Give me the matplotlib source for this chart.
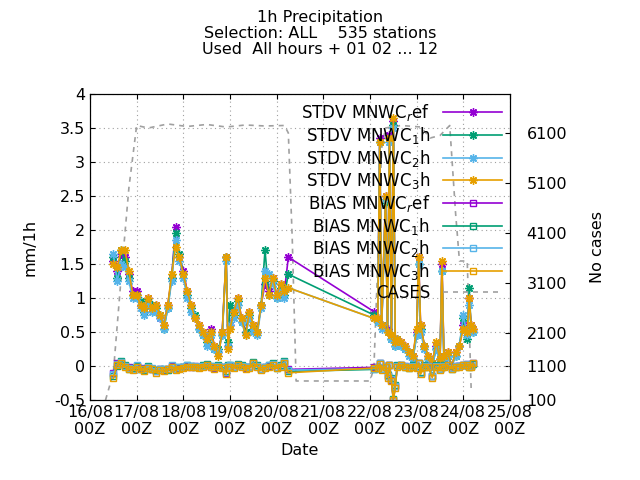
import matplotlib.pyplot as plt
import numpy as np

# hours since 16/08 00Z
t1 = [12, 14, 16, 18, 20, 22, 24, 26, 28, 30, 32, 34, 36, 38, 40, 42, 44, 46, 48, 50,
      52, 54, 56, 58, 60, 62, 64, 66, 68, 70, 71, 72, 74, 76, 78, 80, 82, 84, 86, 88,
      90, 92, 94, 96, 98, 100, 102]
t2 = [146, 148, 149, 150, 152, 153, 154, 155, 156, 157, 158, 160, 162, 164, 166, 168,
      169, 170, 172, 174, 176, 178, 180, 181, 182, 184, 186, 188, 190, 192, 194, 195,
      196, 197]

stdv_ref = [1.55, 1.4, 1.65, 1.6, 1.35, 1.1, 1.1, 0.9, 0.8, 1.0, 0.85, 0.9, 0.7, 0.6, 0.9, 1.3,
            2.05, 1.6, 1.4, 1.1, 0.9, 0.7, 0.6, 0.5, 0.4, 0.55, 0.3, 0.2, 0.5, 1.6, 0.3, 0.6,
            0.8, 1.0, 0.7, 0.5, 0.8, 0.6, 0.5, 0.9, 1.2, 1.1, 1.3, 1.05, 1.2, 1.1, 1.6,
            0.8, 0.7, 3.35, 0.6, 2.5, 0.55, 3.4, 0.45, 3.6, 0.35, 0.4, 0.35, 0.3, 0.2, 0.15, 0.5,
            1.6, 0.6, 0.3, 0.15, 0.05, 0.3, 0.1, 1.5, 0.15, 0.2, 0.0, 0.2, 0.3, 0.6, 0.5, 1.0,
            0.6, 0.55]
stdv_1h = [1.6, 1.3, 1.7, 1.55, 1.3, 1.05, 1.05, 0.95, 0.8, 0.95, 0.9, 0.85, 0.75, 0.55, 0.85, 1.3,
           1.95, 1.65, 1.35, 1.05, 0.85, 0.75, 0.55, 0.45, 0.35, 0.5, 0.25, 0.25, 0.45, 1.6, 0.35, 0.9,
           0.75, 0.95, 0.65, 0.5, 0.75, 0.55, 0.5, 0.9, 1.7, 1.05, 1.25, 1.0, 1.15, 1.05, 1.35,
           0.75, 0.65, 3.3, 0.6, 2.4, 0.5, 3.35, 0.4, 3.55, 0.3, 0.4, 0.3, 0.25, 0.2, 0.1, 0.45,
           1.5, 0.55, 0.3, 0.1, 0.0, 0.25, 0.1, 1.4, 0.1, 0.15, 0.0, 0.15, 0.3, 0.7, 0.4, 1.15,
           0.55, 0.5]
stdv_2h = [1.65, 1.25, 1.5, 1.45, 1.25, 1.0, 1.0, 0.85, 0.75, 0.9, 0.8, 0.8, 0.7, 0.55, 0.85, 1.25,
           1.85, 1.55, 1.3, 1.0, 0.8, 0.7, 0.55, 0.45, 0.3, 0.45, 0.25, 0.2, 0.45, 1.55, 0.3, 0.6,
           0.7, 0.9, 0.65, 0.45, 0.7, 0.5, 0.45, 0.85, 1.4, 1.35, 1.2, 1.0, 1.1, 1.0, 1.15,
           0.7, 0.65, 3.3, 0.55, 2.45, 0.5, 3.3, 0.4, 3.5, 0.3, 0.35, 0.3, 0.25, 0.15, 0.1, 0.45,
           1.5, 0.5, 0.25, 0.1, 0.0, 0.25, 0.05, 1.4, 0.1, 0.15, 0.0, 0.15, 0.3, 0.75, 0.45, 0.9,
           0.55, 0.5]
stdv_3h = [1.5, 1.45, 1.7, 1.7, 1.4, 1.05, 1.05, 0.9, 0.85, 1.0, 0.85, 0.9, 0.75, 0.6, 0.9, 1.35,
           1.75, 1.6, 1.35, 1.1, 0.9, 0.7, 0.6, 0.5, 0.4, 0.5, 0.3, 0.15, 0.5, 1.6, 0.25, 0.55,
           0.8, 1.0, 0.7, 0.45, 0.8, 0.6, 0.5, 0.9, 1.3, 1.05, 1.3, 1.05, 1.2, 1.1, 1.15,
           0.7, 0.7, 3.3, 0.6, 2.5, 0.5, 3.35, 0.45, 3.65, 0.35, 0.4, 0.35, 0.3, 0.2, 0.15, 0.55,
           1.6, 0.6, 0.3, 0.15, 0.05, 0.35, 0.1, 1.55, 0.15, 0.2, 0.0, 0.2, 0.3, 0.55, 0.5, 1.0,
           0.6, 0.55]

bias_ref = [-0.1, 0.05, 0.05, 0.0, -0.02, -0.05, 0.0, -0.03, -0.05, -0.02, -0.04, -0.08, -0.05, -0.06,
            -0.04, 0.0, -0.05, -0.03, -0.02, 0.0, -0.01, 0.0, -0.02, 0.0, 0.02, -0.01, -0.03, 0.0,
            -0.02, -0.1, 0.0, 0.0, -0.02, 0.02, 0.0, -0.03, -0.02, 0.05, 0.0, -0.05, -0.02, 0.0,
            0.03, -0.02, 0.0, 0.05, -0.05,
            -0.02, -0.02, 0.05, -0.05, 0.0, -0.15, 0.02, -0.2, -0.5, -0.3, 0.0, 0.02, 0.0, -0.02,
            0.0, -0.02, 0.05, -0.1, 0.0, 0.0, -0.15, 0.0, -0.05, 0.0, 0.0, 0.02, -0.03, 0.0,
            0.0, 0.02, 0.03, 0.0, 0.0, 0.05]
bias_1h = [-0.15, 0.0, 0.07, 0.02, -0.04, -0.03, 0.0, -0.05, -0.06, 0.0, -0.05, -0.06, -0.04, -0.05,
           -0.06, -0.02, -0.04, -0.01, -0.02, 0.02, 0.0, -0.01, -0.01, 0.01, 0.03, 0.0, -0.02, 0.01,
           -0.01, -0.08, 0.01, 0.02, -0.01, 0.03, 0.01, -0.02, -0.01, 0.06, 0.01, -0.04, -0.01, 0.02,
           0.04, -0.03, 0.01, 0.07, -0.08,
           -0.05, -0.03, 0.04, -0.04, -0.01, -0.13, 0.01, -0.18, -0.48, -0.28, 0.01, 0.01, -0.01, -0.03,
           0.01, -0.01, 0.04, -0.09, 0.01, -0.01, -0.14, 0.01, -0.04, -0.01, 0.01, 0.01, -0.04, -0.01,
           0.0, 0.01, 0.02, -0.02, 0.0, 0.03]
bias_2h = [-0.12, 0.03, 0.06, 0.0, -0.03, -0.04, 0.01, -0.04, -0.05, -0.01, -0.03, -0.07, -0.05, -0.05,
           -0.05, 0.01, -0.04, -0.02, -0.01, 0.01, 0.0, 0.0, -0.02, 0.0, 0.02, 0.0, -0.02, 0.0,
           -0.02, -0.09, 0.0, 0.01, -0.02, 0.02, 0.0, -0.02, -0.02, 0.05, 0.0, -0.04, -0.02, 0.01,
           0.03, -0.02, 0.0, 0.06, -0.06,
           -0.04, -0.02, 0.05, -0.05, 0.0, -0.14, 0.02, -0.19, -0.5, -0.29, 0.0, 0.02, 0.0, -0.02,
           0.0, -0.02, 0.05, -0.1, 0.0, 0.0, -0.15, 0.0, -0.05, 0.0, 0.0, 0.02, -0.03, 0.0,
           0.0, 0.02, 0.03, 0.0, 0.0, 0.04]
bias_3h = [-0.18, 0.02, 0.05, -0.02, -0.05, -0.06, -0.01, -0.05, -0.07, -0.03, -0.05, -0.1, -0.06, -0.08,
           -0.05, -0.01, -0.06, -0.04, -0.03, -0.01, -0.02, -0.01, -0.03, -0.01, 0.01, -0.02, -0.04, -0.01,
           -0.03, -0.12, -0.01, -0.01, -0.03, 0.01, -0.01, -0.04, -0.03, 0.04, -0.01, -0.06, -0.03, -0.01,
           0.02, -0.03, -0.01, 0.04, -0.1,
           -0.03, -0.03, 0.03, -0.06, -0.01, -0.17, 0.01, -0.22, -0.5, -0.32, -0.01, 0.01, -0.01, -0.03,
           -0.01, -0.03, 0.04, -0.12, -0.01, -0.01, -0.17, -0.01, -0.06, -0.01, -0.01, 0.01, -0.04, -0.01,
           -0.01, 0.01, 0.02, -0.01, -0.01, 0.04]

t_cases = [8, 12, 16, 20, 24, 30, 40, 50, 60, 70, 80, 90, 100, 102, 104, 106, 110, 120, 130, 140,
           144, 146, 148, 150, 152, 160, 170, 175, 180, 185, 188, 190, 192, 194, 196]
cases = [760, 1300, 3200, 5000, 6250, 6200, 6280, 6230, 6270, 6220, 6260, 6240, 6250, 6100, 4000,
         1140, 1140, 1140, 1140, 1140, 1140, 1400, 3500, 5800, 6200, 6250, 6220, 6000, 6050, 6250,
         4500, 3540, 3540, 3540, 1000]

colors = ['#9400d3', '#009e73', '#56b4e9', '#e69f00']
labels = ['MNWC$_{r}$ef', 'MNWC$_{1}$h', 'MNWC$_{2}$h', 'MNWC$_{3}$h']
stdv = [stdv_ref, stdv_1h, stdv_2h, stdv_3h]
bias = [bias_ref, bias_1h, bias_2h, bias_3h]
times = t1 + t2

fig = plt.figure(figsize=(6.4, 4.8), dpi=100)
ax = fig.add_axes([0.1406, 0.1667, 0.6563, 0.6375])
ax2 = ax.twinx()

ast = (8, 2, 0)
handles = []
for s, c, l in zip(stdv, colors, labels):
    h, = ax.plot(times, s, color=c, lw=1.2, marker=ast, ms=6, label='STDV ' + l)
    handles.append(h)
for b, c, l in zip(bias, colors, labels):
    h, = ax.plot(times, b, color=c, lw=1.2, marker='s', ms=4, mfc='none', label='BIAS ' + l)
    handles.append(h)
hc, = ax2.plot(t_cases, cases, color='#a0a0a0', lw=1.2, ls=(0, (3, 3)), label='CASES')
handles.append(hc)
ax.set_zorder(ax2.get_zorder() + 1)
ax.patch.set_visible(False)

ax.set_xlim(0, 216)
ax.set_ylim(-0.5, 4)
ax.set_xticks(np.arange(0, 217, 24))
ax.set_xticklabels(['%02d/08\n00Z' % d for d in range(16, 26)])
ax.set_yticks(np.arange(-0.5, 4.01, 0.5))
ax.set_yticklabels(['-0.5', '0', '0.5', '1', '1.5', '2', '2.5', '3', '3.5', '4'])
ax.grid(True, color='#a0a0a0', ls=(0, (1, 3)), lw=0.8)
ax.tick_params(direction='in', labelsize=11.5, top=True)
ax.minorticks_off()

ax2.set_ylim(760, 6880)
ax2.set_yticks([760, 1440, 2100, 3100, 4100, 5100, 6100])
ax2.set_yticklabels(['100', '1100', '2100', '3100', '4100', '5100', '6100'])
ax2.tick_params(direction='in', labelsize=11.5, pad=12)

ax.set_xlabel('Date', fontsize=11.5)
ax.set_ylabel('mm/1h', fontsize=11.5, labelpad=12)
ax2.set_ylabel('No cases', fontsize=11.5, labelpad=16)
fig.suptitle('1h Precipitation\nSelection: ALL    535 stations\nUsed  All hours + 01 02 ... 12',
             fontsize=11.5, y=0.98, linespacing=1.1)

leg = ax.legend(handles=handles, loc='upper right', frameon=False, markerfirst=False,
                fontsize=12, handlelength=3.5, labelspacing=0.1, borderaxespad=0.1,
                bbox_to_anchor=(1.0, 1.0))
for t in leg.get_texts():
    t.set_ha('right')

fig.savefig('out.png', dpi=100)
